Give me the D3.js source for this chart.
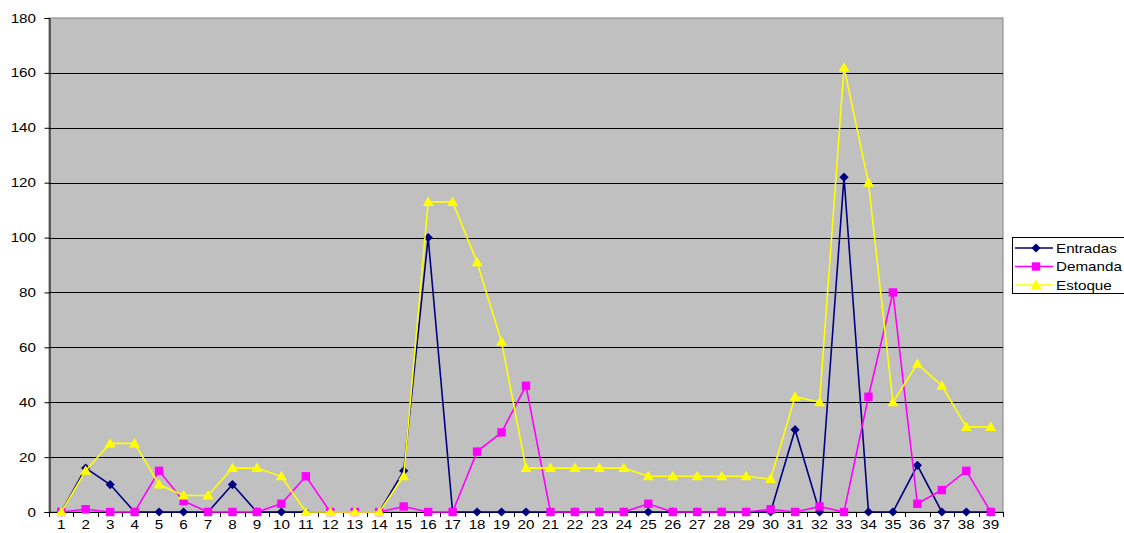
<!DOCTYPE html>
<html><head><meta charset="utf-8">
<script src="https://cdn.jsdelivr.net/npm/d3@7"></script>
<style>body{margin:0;background:#fff;}svg{display:block;font-family:"Liberation Sans",Arial,sans-serif;}</style>
</head><body><svg id="c" width="1124" height="533"></svg>
<script>
const categories = d3.range(1, 40).map(String);
const entradas = [0,16,10,0,0,0,0,10,0,0,0,0,0,0,15,100,0,0,0,0,0,0,0,0,0,0,0,0,0,0,30,0,122,0,0,17,0,0,0];
const demanda  = [0,1,0,0,15,4,0,0,0,3,13,0,0,0,2,0,0,22,29,46,0,0,0,0,3,0,0,0,0,1,0,2,0,42,80,3,8,15,0];
const estoque  = [0,15,25,25,10,6,6,16,16,13,0,0,0,0,13,113,113,91,62,16,16,16,16,16,13,13,13,13,13,12,42,40,162,120,40,54,46,31,31];
const yTicks = [0,20,40,60,80,100,120,140,160,180];
const seriesNames = ["Entradas","Demanda","Estoque"];

const svg = d3.select("#c");
const L = 49, R = 1003, T = 18, B = 512;
const FS = 13, SX = 1.17;
const x = d3.scaleBand().domain(categories).range([L, R]);
const y = d3.scaleLinear().domain([0, 180]).range([B, T]);

svg.append("rect").attr("x", L).attr("y", T).attr("width", R - L).attr("height", B - T)
  .attr("fill", "#c0c0c0").attr("stroke", "#808080").attr("stroke-width", 1);

// grid
svg.append("g").selectAll("line").data(yTicks.filter(d => d > 0 && d < 180)).join("line")
  .attr("x1", L).attr("x2", R).attr("y1", d => Math.round(y(d)) + 0.5).attr("y2", d => Math.round(y(d)) + 0.5)
  .attr("stroke", "#000").attr("stroke-width", 1);

// y axis
const ya = svg.append("g").attr("transform", `translate(${L + 0.5},0)`)
  .call(d3.axisLeft(y).tickValues(yTicks).tickSize(5).tickFormat(""));
ya.select(".domain").attr("stroke", "#000");
svg.append("g").selectAll("text").data(yTicks).join("text")
  .attr("transform", d => `translate(36,${y(d) + 4.5}) scale(${SX},1)`)
  .attr("text-anchor", "end").attr("font-size", FS).attr("fill", "#000").text(d => d);

// x axis
svg.append("line").attr("x1", L).attr("x2", R).attr("y1", B + 0.5).attr("y2", B + 0.5).attr("stroke", "#000");
svg.append("g").selectAll("line").data(categories.concat(["end"])).join("line")
  .attr("x1", (d, i) => Math.round(L + i * x.bandwidth()) + 0.5)
  .attr("x2", (d, i) => Math.round(L + i * x.bandwidth()) + 0.5)
  .attr("y1", B).attr("y2", B + 5).attr("stroke", "#000");
const cx = d => x(d) + x.bandwidth() / 2;
svg.append("g").selectAll("text").data(categories).join("text")
  .attr("transform", d => `translate(${cx(d)},${529}) scale(${SX},1)`)
  .attr("text-anchor", "middle").attr("font-size", FS).attr("fill", "#000").text(d => d);

const diamond = {draw(ctx, size) { const w = 4.6, h = 4.6; ctx.moveTo(0, -h); ctx.lineTo(w, 0); ctx.lineTo(0, h); ctx.lineTo(-w, 0); ctx.closePath(); }};
const tri = {draw(ctx, size) { ctx.moveTo(0, -5.5); ctx.lineTo(5.5, 4); ctx.lineTo(-5.5, 4); ctx.closePath(); }};
const sq = {draw(ctx, size) { ctx.rect(-4.2, -4.2, 8.4, 8.4); }};
const series = [
  {name: "Entradas", vals: entradas, color: "#000080", sym: diamond},
  {name: "Demanda", vals: demanda, color: "#ff00ff", sym: sq},
  {name: "Estoque", vals: estoque, color: "#ffff00", sym: tri}
];
const line = d3.line().x(d => cx(d.c)).y(d => y(d.v));
series.forEach(s => {
  const pts = categories.map((c, i) => ({c, v: s.vals[i]}));
  const g = svg.append("g");
  g.append("path").datum(pts).attr("d", line).attr("fill", "none").attr("stroke", s.color).attr("stroke-width", 1.6);
  g.selectAll("path.m").data(pts).join("path").attr("class", "m")
    .attr("transform", d => `translate(${cx(d.c)},${y(d.v)})`)
    .attr("d", d3.symbol().type(s.sym)).attr("fill", s.color);
});

// legend
const lg = svg.append("g");
lg.append("rect").attr("x", 1012.5).attr("y", 237.5).attr("width", 120).attr("height", 56)
  .attr("fill", "#fff").attr("stroke", "#000");
series.forEach((s, i) => {
  const yy = 248 + i * 18.5;
  lg.append("line").attr("x1", 1015).attr("x2", 1053).attr("y1", yy).attr("y2", yy).attr("stroke", s.color).attr("stroke-width", 1.6);
  lg.append("path").attr("transform", `translate(1036,${yy})`).attr("d", d3.symbol().type(s.sym)).attr("fill", s.color);
  lg.append("text").attr("transform", `translate(1056,${yy + 4.5}) scale(${SX},1)`).attr("font-size", FS).text(s.name);
});
</script></body></html>
